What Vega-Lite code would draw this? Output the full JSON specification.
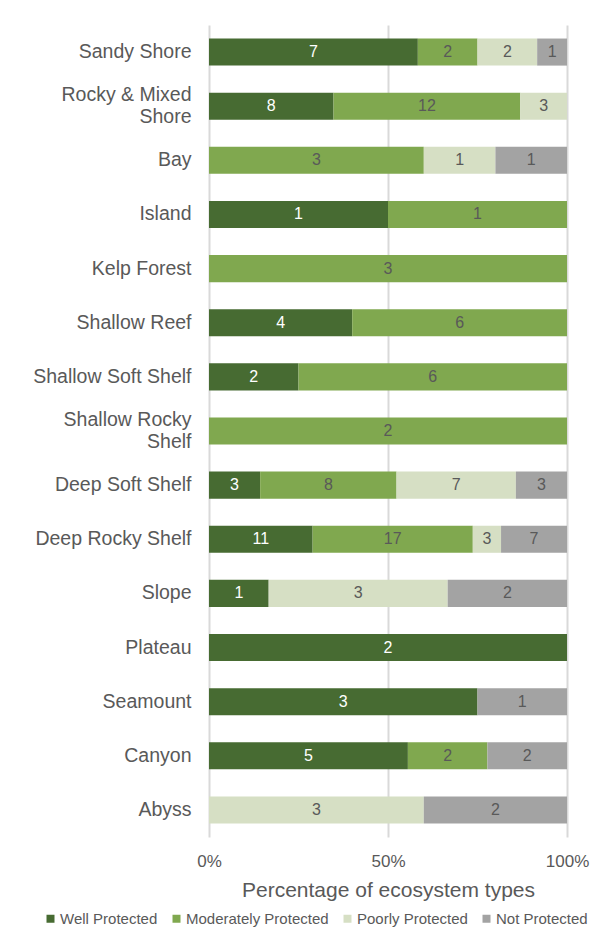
{
  "$schema": "https://vega.github.io/schema/vega-lite/v6.json",
  "width": 358,
  "height": 812,
  "autosize": {"type": "none"},
  "padding": {"left": 209, "top": 25, "right": 34, "bottom": 101},
  "background": "white",
  "config": {"view": {"stroke": null}, "font": "Liberation Sans"},
  "data": {
    "values": [
      {"ecosystem": "Sandy Shore", "status": "Well Protected", "rank": 1, "count": 7},
      {"ecosystem": "Sandy Shore", "status": "Moderately Protected", "rank": 2, "count": 2},
      {"ecosystem": "Sandy Shore", "status": "Poorly Protected", "rank": 3, "count": 2},
      {"ecosystem": "Sandy Shore", "status": "Not Protected", "rank": 4, "count": 1},
      {"ecosystem": "Rocky & Mixed Shore", "status": "Well Protected", "rank": 1, "count": 8},
      {"ecosystem": "Rocky & Mixed Shore", "status": "Moderately Protected", "rank": 2, "count": 12},
      {"ecosystem": "Rocky & Mixed Shore", "status": "Poorly Protected", "rank": 3, "count": 3},
      {"ecosystem": "Bay", "status": "Moderately Protected", "rank": 2, "count": 3},
      {"ecosystem": "Bay", "status": "Poorly Protected", "rank": 3, "count": 1},
      {"ecosystem": "Bay", "status": "Not Protected", "rank": 4, "count": 1},
      {"ecosystem": "Island", "status": "Well Protected", "rank": 1, "count": 1},
      {"ecosystem": "Island", "status": "Moderately Protected", "rank": 2, "count": 1},
      {"ecosystem": "Kelp Forest", "status": "Moderately Protected", "rank": 2, "count": 3},
      {"ecosystem": "Shallow Reef", "status": "Well Protected", "rank": 1, "count": 4},
      {"ecosystem": "Shallow Reef", "status": "Moderately Protected", "rank": 2, "count": 6},
      {"ecosystem": "Shallow Soft Shelf", "status": "Well Protected", "rank": 1, "count": 2},
      {"ecosystem": "Shallow Soft Shelf", "status": "Moderately Protected", "rank": 2, "count": 6},
      {"ecosystem": "Shallow Rocky Shelf", "status": "Moderately Protected", "rank": 2, "count": 2},
      {"ecosystem": "Deep Soft Shelf", "status": "Well Protected", "rank": 1, "count": 3},
      {"ecosystem": "Deep Soft Shelf", "status": "Moderately Protected", "rank": 2, "count": 8},
      {"ecosystem": "Deep Soft Shelf", "status": "Poorly Protected", "rank": 3, "count": 7},
      {"ecosystem": "Deep Soft Shelf", "status": "Not Protected", "rank": 4, "count": 3},
      {"ecosystem": "Deep Rocky Shelf", "status": "Well Protected", "rank": 1, "count": 11},
      {"ecosystem": "Deep Rocky Shelf", "status": "Moderately Protected", "rank": 2, "count": 17},
      {"ecosystem": "Deep Rocky Shelf", "status": "Poorly Protected", "rank": 3, "count": 3},
      {"ecosystem": "Deep Rocky Shelf", "status": "Not Protected", "rank": 4, "count": 7},
      {"ecosystem": "Slope", "status": "Well Protected", "rank": 1, "count": 1},
      {"ecosystem": "Slope", "status": "Poorly Protected", "rank": 3, "count": 3},
      {"ecosystem": "Slope", "status": "Not Protected", "rank": 4, "count": 2},
      {"ecosystem": "Plateau", "status": "Well Protected", "rank": 1, "count": 2},
      {"ecosystem": "Seamount", "status": "Well Protected", "rank": 1, "count": 3},
      {"ecosystem": "Seamount", "status": "Not Protected", "rank": 4, "count": 1},
      {"ecosystem": "Canyon", "status": "Well Protected", "rank": 1, "count": 5},
      {"ecosystem": "Canyon", "status": "Moderately Protected", "rank": 2, "count": 2},
      {"ecosystem": "Canyon", "status": "Not Protected", "rank": 4, "count": 2},
      {"ecosystem": "Abyss", "status": "Poorly Protected", "rank": 3, "count": 3},
      {"ecosystem": "Abyss", "status": "Not Protected", "rank": 4, "count": 2}
    ]
  },
  "encoding": {
    "y": {
      "field": "ecosystem",
      "type": "nominal",
      "sort": ["Sandy Shore", "Rocky & Mixed Shore", "Bay", "Island", "Kelp Forest", "Shallow Reef", "Shallow Soft Shelf", "Shallow Rocky Shelf", "Deep Soft Shelf", "Deep Rocky Shelf", "Slope", "Plateau", "Seamount", "Canyon", "Abyss"],
      "scale": {"paddingInner": 0.5, "paddingOuter": 0.25},
      "axis": {
        "title": null,
        "domain": false,
        "ticks": false,
        "labelFontSize": 19.5,
        "labelColor": "#595959",
        "labelPadding": 18,
        "labelLimit": 220,
        "labelLineHeight": 22,
        "labelExpr": "datum.label == 'Rocky & Mixed Shore' ? ['Rocky & Mixed', 'Shore'] : datum.label == 'Shallow Rocky Shelf' ? ['Shallow Rocky', 'Shelf'] : datum.label",
        "labelOffset": {
          "condition": {"test": "datum.value == 'Rocky & Mixed Shore' || datum.value == 'Shallow Rocky Shelf'", "value": -11},
          "value": 0
        }
      }
    },
    "order": {"field": "rank", "type": "quantitative"}
  },
  "layer": [
    {
      "mark": {"type": "bar"},
      "encoding": {
        "x": {
          "field": "count",
          "type": "quantitative",
          "stack": "normalize",
          "axis": {
            "values": [0, 0.5, 1],
            "format": "%",
            "grid": true,
            "gridColor": "#d9d9d9",
            "gridWidth": 2,
            "domain": false,
            "ticks": false,
            "labelFlush": false,
            "labelFontSize": 17,
            "labelColor": "#595959",
            "labelPadding": 16,
            "title": "Percentage of ecosystem types",
            "titleFontSize": 21,
            "titleFontWeight": "normal",
            "titleColor": "#595959",
            "titlePadding": 10
          }
        },
        "color": {
          "field": "status",
          "type": "nominal",
          "scale": {
            "domain": ["Well Protected", "Moderately Protected", "Poorly Protected", "Not Protected"],
            "range": ["#476b32", "#80a84f", "#d6dfc4", "#a3a3a3"]
          },
          "legend": {
            "orient": "none",
            "legendX": -166,
            "legendY": 886,
            "direction": "horizontal",
            "title": null,
            "symbolType": "square",
            "symbolSize": 64,
            "symbolStrokeWidth": 0,
            "labelFontSize": 15,
            "labelColor": "#595959",
            "labelOffset": 2,
            "columnPadding": 11
          }
        }
      }
    },
    {
      "mark": {"type": "text", "fontSize": 16},
      "encoding": {
        "x": {
          "field": "count",
          "type": "quantitative",
          "stack": "normalize",
          "bandPosition": 0.5,
          "axis": {
            "values": [0, 0.5, 1],
            "format": "%",
            "grid": true,
            "gridColor": "#d9d9d9",
            "gridWidth": 2,
            "domain": false,
            "ticks": false,
            "labelFlush": false,
            "labelFontSize": 17,
            "labelColor": "#595959",
            "labelPadding": 16,
            "title": "Percentage of ecosystem types",
            "titleFontSize": 21,
            "titleFontWeight": "normal",
            "titleColor": "#595959",
            "titlePadding": 10
          }
        },
        "detail": {"field": "status", "type": "nominal"},
        "text": {"field": "count", "type": "quantitative"},
        "color": {
          "condition": {"test": "datum.status == 'Well Protected'", "value": "white"},
          "value": "#595959"
        }
      }
    }
  ]
}
